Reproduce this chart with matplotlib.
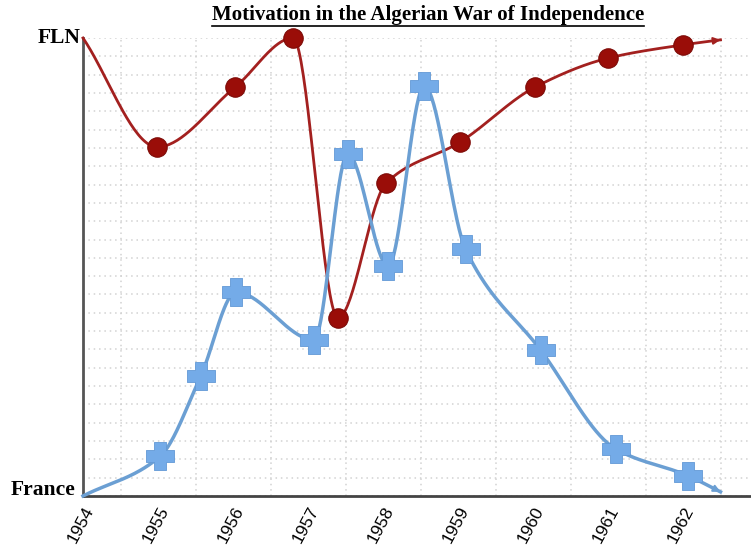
import numpy as np
import matplotlib.pyplot as plt
from matplotlib.lines import Line2D
from matplotlib.path import Path

# data (0 = France, 100 = FLN)
fln_x = [1954.0, 1954.99, 1956.03, 1956.8, 1957.4, 1958.04, 1959.03, 1960.03, 1961.0, 1962.0, 1962.5]
fln_y = [100, 76.2, 89.3, 100, 38.9, 68.3, 77.3, 89.3, 95.6, 98.5, 99.6]
fr_x = [1954.0, 1955.03, 1955.57, 1956.04, 1957.08, 1957.53, 1958.07, 1958.55, 1959.1, 1960.1, 1961.1, 1962.07, 1962.5]
fr_y = [0, 8.7, 26.2, 44.5, 34.1, 74.7, 50.2, 89.5, 53.9, 31.9, 10.3, 4.4, 0.9]
years = list(range(1954, 1963))

RED = '#a3201f'
RED_DOT = '#9a0d08'
BLUE = '#6b9fd3'
BLUE_MK = '#74abe8'

# chunky plus marker
a = 0.22
plus = Path([(-a, 0.5), (a, 0.5), (a, a), (0.5, a), (0.5, -a), (a, -a), (a, -0.5),
             (-a, -0.5), (-a, -a), (-0.5, -a), (-0.5, a), (-a, a), (-a, 0.5)], closed=True)


def smooth(xs, ys, n=40):
    # monotone cubic (pchip-like) through the points
    xs = np.asarray(xs, float)
    ys = np.asarray(ys, float)
    h = np.diff(xs)
    d = np.diff(ys) / h
    m = np.zeros_like(ys)
    for i in range(1, len(xs) - 1):
        if d[i - 1] * d[i] > 0:
            w1 = 2 * h[i] + h[i - 1]
            w2 = h[i] + 2 * h[i - 1]
            m[i] = (w1 + w2) / (w1 / d[i - 1] + w2 / d[i])
    m[0] = d[0]
    m[-1] = d[-1]
    ox, oy = [], []
    for i in range(len(xs) - 1):
        t = np.linspace(0, 1, n)
        h00 = 2 * t**3 - 3 * t**2 + 1
        h10 = t**3 - 2 * t**2 + t
        h01 = -2 * t**3 + 3 * t**2
        h11 = t**3 - t**2
        ox.append(xs[i] + t * h[i])
        oy.append(h00 * ys[i] + h10 * h[i] * m[i] + h01 * ys[i + 1] + h11 * h[i] * m[i + 1])
    return np.concatenate(ox), np.concatenate(oy)


fig = plt.figure(figsize=(7.51, 5.48), dpi=100)
ax = fig.add_axes([83 / 751, 1 - 496 / 548, 1 - 83 / 751, (496 - 38) / 548])
ax.set_xlim(1954, 1954 + (751 - 83) / 75)
ax.set_ylim(0, 100)

# dotted grid
ax.set_xticks(np.arange(1954, 1963, 0.5), minor=True)
ax.set_yticks(np.arange(0, 101, 4), minor=True)
ax.grid(which='minor', color='#d2d2d2', linestyle=(0, (1, 2.5)), linewidth=1.1)
ax.set_axisbelow(True)

sx, sy = smooth(fln_x, fln_y)
ax.plot(sx, sy, color=RED, lw=2, zorder=3, clip_on=False)
ax.plot(fln_x[1:-1], fln_y[1:-1], 'o', color=RED_DOT, ms=14, mec='#7d0a06', mew=0.8, zorder=4, clip_on=False)
ax.annotate('', xy=(sx[-1], sy[-1]), xytext=(sx[-6], sy[-6]),
            arrowprops=dict(arrowstyle='-|>', color=RED, lw=1.5, mutation_scale=10))

bx, by = smooth(fr_x, fr_y)
ax.plot(bx, by, color=BLUE, lw=2.5, zorder=3, clip_on=False)
ax.plot(fr_x[1:-1], fr_y[1:-1], marker=plus, ls='none', color=BLUE_MK, ms=20,
        mec='#6299d6', mew=0.6, zorder=4, clip_on=False)
ax.annotate('', xy=(bx[-1], by[-1]), xytext=(bx[-6], by[-6]),
            arrowprops=dict(arrowstyle='-|>', color=BLUE, lw=1.5, mutation_scale=10))

for s in ['top', 'right']:
    ax.spines[s].set_visible(False)
ax.spines['left'].set_color('#555555')
ax.spines['left'].set_linewidth(2)
ax.spines['bottom'].set_color('#444444')
ax.spines['bottom'].set_linewidth(2)

ax.set_xticks(years)
ax.set_xticklabels([str(y) for y in years], rotation=62, ha='right', va='top',
                   rotation_mode='anchor', fontsize=12.5, family='Liberation Sans')
ax.tick_params(axis='x', which='both', length=0, pad=6)
ax.set_yticks([])
ax.tick_params(axis='y', which='both', length=0)

serif = 'Liberation Serif'
ax.text(-0.004, 1.0, 'FLN', transform=ax.transAxes, ha='right', va='center',
        fontsize=15.5, fontweight='bold', family=serif)
ax.text(-0.012, 0.013, 'France', transform=ax.transAxes, ha='right', va='center',
        fontsize=15.5, fontweight='bold', family=serif)

title = fig.text(428 / 751, 1 - 15 / 548, 'Motivation in the Algerian War of Independence',
                 ha='center', va='center', fontsize=15, fontweight='bold', family=serif)
fig.canvas.draw()
bb = title.get_window_extent().transformed(fig.transFigure.inverted())
fig.add_artist(Line2D([bb.x0, bb.x1], [bb.y0 - 0.001, bb.y0 - 0.001], color='black', lw=1.2))

fig.savefig('out.png', dpi=100)
